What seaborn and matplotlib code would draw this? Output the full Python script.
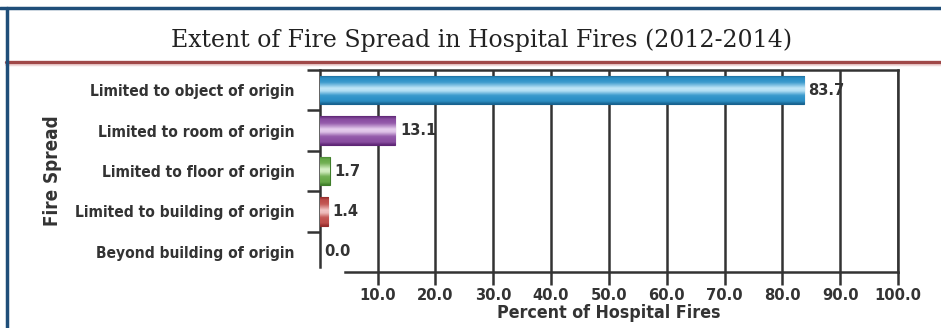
import numpy as np
import pandas as pd
import matplotlib
matplotlib.use("Agg")
import matplotlib.pyplot as plt
import seaborn as sns
from matplotlib.lines import Line2D
from matplotlib.colors import LinearSegmentedColormap

categories = [
    "Limited to object of origin",
    "Limited to room of origin",
    "Limited to floor of origin",
    "Limited to building of origin",
    "Beyond building of origin",
]
percent = [83.7, 13.1, 1.7, 1.4, 0.0]
x_ticks = [10, 20, 30, 40, 50, 60, 70, 80, 90, 100]

# (edge shade, body shade, highlight shade) for each bar's cylinder look
bar_shades = [
    ("#17628f", "#2f93c9", "#bfe6f8"),
    ("#5e2675", "#8e52a5", "#e6cdee"),
    ("#3f7e2a", "#6aab4b", "#d6f0c6"),
    ("#942a2a", "#c0504d", "#f2c4c4"),
    ("#777777", "#999999", "#dddddd"),
]
base_colors = ["#2f93c9", "#8e52a5", "#6aab4b", "#c0504d", "#999999"]

df = pd.DataFrame({"Fire Spread": categories, "Percent": percent})

sns.set_theme(style="white")
plt.rcParams["font.family"] = ["DejaVu Sans"]
plt.rcParams["font.stretch"] = "condensed"

ink = "#333333"
lab = dict(fontsize=11.2, fontweight="bold", color=ink, fontstretch="condensed")

fig = plt.figure(figsize=(9.41, 3.28), dpi=100)
fig.patch.set_facecolor("white")

W, H = 941, 328
ax = fig.add_axes([319.7 / W, 1 - 272 / H, (898 - 319.7) / W, (272 - 70) / H])

sns.barplot(
    data=df, y="Fire Spread", x="Percent", hue="Fire Spread",
    palette=base_colors, orient="h", width=0.7, legend=False, ax=ax,
    edgecolor="none", saturation=1,
)

# cylinder-style shading clipped to each bar
for patch, (edge, body, light) in zip(ax.patches, bar_shades):
    x0, y0 = patch.get_x(), patch.get_y()
    w, h = patch.get_width(), patch.get_height()
    if w <= 0:
        continue
    cmap = LinearSegmentedColormap.from_list("cyl", [edge, body, light])
    t = np.linspace(0, 1, 128)
    prof = np.interp(t, [0, 0.1, 0.25, 0.45, 0.55, 0.7, 0.9, 1.0],
                     [0.0, 0.45, 0.55, 1.0, 0.95, 0.55, 0.45, 0.0])
    img = ax.imshow(prof[:, None], cmap=cmap, vmin=0, vmax=1,
                    extent=(x0, x0 + w, y0 + h, y0), aspect="auto",
                    origin="upper", zorder=3, interpolation="bilinear")
    img.set_clip_path(patch)
    patch.set_edgecolor(edge)
    patch.set_linewidth(0.8)
    patch.set_zorder(3)

ax.set_xlim(0, 100)
ax.set_ylim(4.5, -0.5)

# value labels
for i, v in enumerate(percent):
    ax.annotate(f"{v:.1f}", xy=(v, i), xytext=(3.5, 0), textcoords="offset points",
                ha="left", va="center", zorder=5, **{**lab, "fontsize": 11.8})

# axes styling
ax.set_xticks(x_ticks)
ax.set_xticklabels([f"{t:.1f}" for t in x_ticks], **{**lab, "fontsize": 11.8})
ax.tick_params(axis="x", which="major", direction="out", length=9.5, width=1.8,
               color=ink, pad=2, bottom=True)
ax.grid(axis="x", color=ink, linewidth=1.8, zorder=1)
ax.set_axisbelow(True)

ax.set_yticks(range(len(categories)))
ax.set_yticklabels(categories, **lab)
ax.set_yticks(np.arange(-0.5, 4.0, 1.0), minor=True)
ax.tick_params(axis="y", which="major", length=0, pad=18)
ax.tick_params(axis="y", which="minor", direction="out", length=9.5, width=1.8,
               color=ink, left=True)

for side in ["top", "right", "left", "bottom"]:
    ax.spines[side].set_visible(True)
    ax.spines[side].set_color(ink)
    ax.spines[side].set_linewidth(1.8)
ax.spines["left"].set_bounds(-0.5, 4.38)
ax.spines["bottom"].set_bounds(4.4, 100)

ax.set_xlabel("Percent of Hospital Fires", labelpad=1, **{**lab, "fontsize": 12.8})
ax.set_ylabel("Fire Spread", **{**lab, "fontsize": 13.5})
ax.yaxis.set_label_coords(-0.445, 0.5)

# frame: title, rule under it, border lines
fig.text(482 / W, 1 - 40 / H, "Extent of Fire Spread in Hospital Fires (2012-2014)",
         ha="center", va="center", fontsize=17, color="#222222",
         family=["DejaVu Serif"], fontstretch="normal", fontweight="normal")
fig.add_artist(Line2D([6 / W, 1], [1 - 64 / H] * 2, color="#f0d8d8", lw=2.5))
fig.add_artist(Line2D([6 / W, 1], [1 - 62 / H] * 2, color="#a04848", lw=2.4))
fig.add_artist(Line2D([0, 1], [1 - 8 / H] * 2, color="#1f4e79", lw=2.5))
fig.add_artist(Line2D([7 / W] * 2, [0, 1 - 8 / H], color="#1f4e79", lw=2.5))

fig.savefig("out.png", dpi=100, facecolor="white")
